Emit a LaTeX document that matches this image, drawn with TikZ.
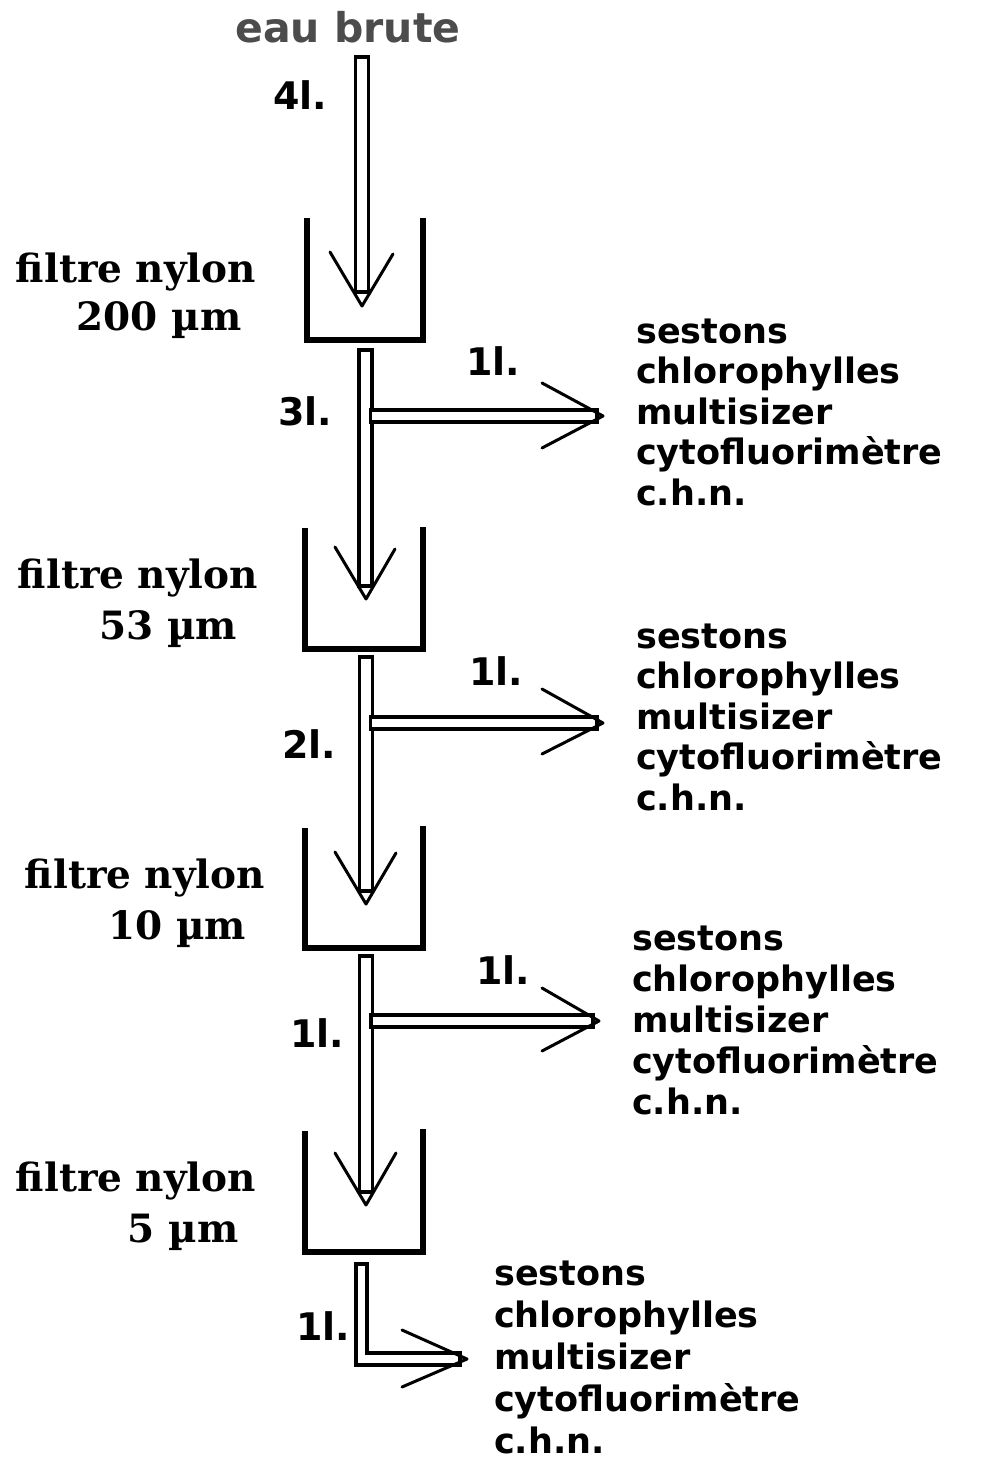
\documentclass[tikz,border=0pt]{standalone}
\usepackage{fontspec}
\newfontfamily\labelsans{DejaVu Sans}
\newfontfamily\labelserif{DejaVu Serif}
\begin{document}
\begin{tikzpicture}[x=1pt,y=-1pt,
  pipe/.style={draw=black, line width=3.5pt, fill=white, line join=miter},
  cup/.style={draw=black, line width=6pt, line join=miter},
  tip/.style={draw=black, line width=3pt, line cap=round, line join=round},
  vol/.style={font=\labelsans\bfseries\fontsize{38}{42}\selectfont, inner sep=0pt, anchor=base},
  filt/.style={font=\labelserif\bfseries\fontsize{39}{44}\selectfont, inner sep=0pt, anchor=base},
  res/.style={font=\labelsans\bfseries\fontsize{35}{41}\selectfont, inner sep=0pt, anchor=base west},
  src/.style={font=\labelsans\bfseries\fontsize{41}{44}\selectfont, inner sep=0pt, anchor=base, text=black!70}]
\useasboundingbox (0,0) rectangle (985,1461);

% source
\node[src] (eau) at (348,43) {eau brute};

% volume labels
\node[vol] (v4) at (300,110) {4l.};
\node[vol] (v3) at (305,425) {3l.};
\node[vol] (b1) at (493,375) {1l.};
\node[vol] (b2) at (496,685) {1l.};
\node[vol] (v2) at (309,758) {2l.};
\node[vol] (b3) at (503,984) {1l.};
\node[vol] (v1) at (317,1047) {1l.};
\node[vol] (v0) at (323,1340) {1l.};

% filter labels
\node[filt] (f1a) at (136,282) {filtre nylon};
\node[filt] (f1b) at (159,330) {200 µm};
\node[filt] (f2a) at (138,588) {filtre nylon};
\node[filt] (f2b) at (168,639) {53 µm};
\node[filt] (f3a) at (145,888) {filtre nylon};
\node[filt] (f3b) at (177,939) {10 µm};
\node[filt] (f4a) at (136,1191) {filtre nylon};
\node[filt] (f4b) at (183,1242) {5 µm};

% analysis lists
\foreach \t [count=\i from 0] in {sestons,chlorophylles,multisizer,cytofluorimètre,c.h.n.}{
  \node[res] (ra\i) at (636,{343+40.5*\i}) {\t};
  \node[res] (rb\i) at (636,{648+40.5*\i}) {\t};
  \node[res] (rc\i) at (632,{950+41*\i}) {\t};
  \node[res] (rd\i) at (494,{1285+42*\i}) {\t};
}

% filter cups
\draw[cup] (307,218) -- (307,340) -- (423,340) -- (423,218);
\draw[cup] (305,528) -- (305,649) -- (423,649) -- (423,527);
\draw[cup] (305,828) -- (305,948) -- (423,948) -- (423,826);
\draw[cup] (305,1131) -- (305,1252) -- (423,1252) -- (423,1129);

% main flow pipes
\coordinate (p1a) at (355.5,57);  \coordinate (p1b) at (368.5,292);
\coordinate (p2a) at (359,350);   \coordinate (p2b) at (372,586);
\coordinate (p3a) at (359.5,657); \coordinate (p3b) at (372.5,891);
\coordinate (p4a) at (359.5,956); \coordinate (p4b) at (372.5,1192);
\draw[pipe] (p1a) rectangle (p1b);
\draw[pipe] (p2a) rectangle (p2b);
\draw[pipe] (p3a) rectangle (p3b);
\draw[pipe] (p4a) rectangle (p4b);

% side branches
\coordinate (s1a) at (370.5,410); \coordinate (s1b) at (597,422);
\coordinate (s2a) at (370.5,717); \coordinate (s2b) at (597,729);
\coordinate (s3a) at (371,1015);  \coordinate (s3b) at (593,1027);
\draw[pipe] (s1a) rectangle (s1b);
\draw[pipe] (s2a) rectangle (s2b);
\draw[pipe] (s3a) rectangle (s3b);

% last outlet, bent
\draw[pipe] (356,1264) -- (367,1264) -- (367,1353) -- (460,1353) -- (460,1365) -- (356,1365) -- cycle;

% arrow heads into the cups
\draw[tip] (330,252) -- (362,306) -- (393,254);
\draw[tip] (335,547) -- (366,599) -- (395,549);
\draw[tip] (335,852) -- (366,904) -- (396,853);
\draw[tip] (335,1153) -- (366,1205) -- (396,1153);

% arrow heads of the outlets
\draw[tip] (542,383) -- (603,416) -- (542,448);
\draw[tip] (542,689) -- (603,723) -- (542,754);
\draw[tip] (542,988) -- (599,1021) -- (542,1051);
\draw[tip] (402,1330) -- (467,1359) -- (402,1387);
\end{tikzpicture}
\end{document}
